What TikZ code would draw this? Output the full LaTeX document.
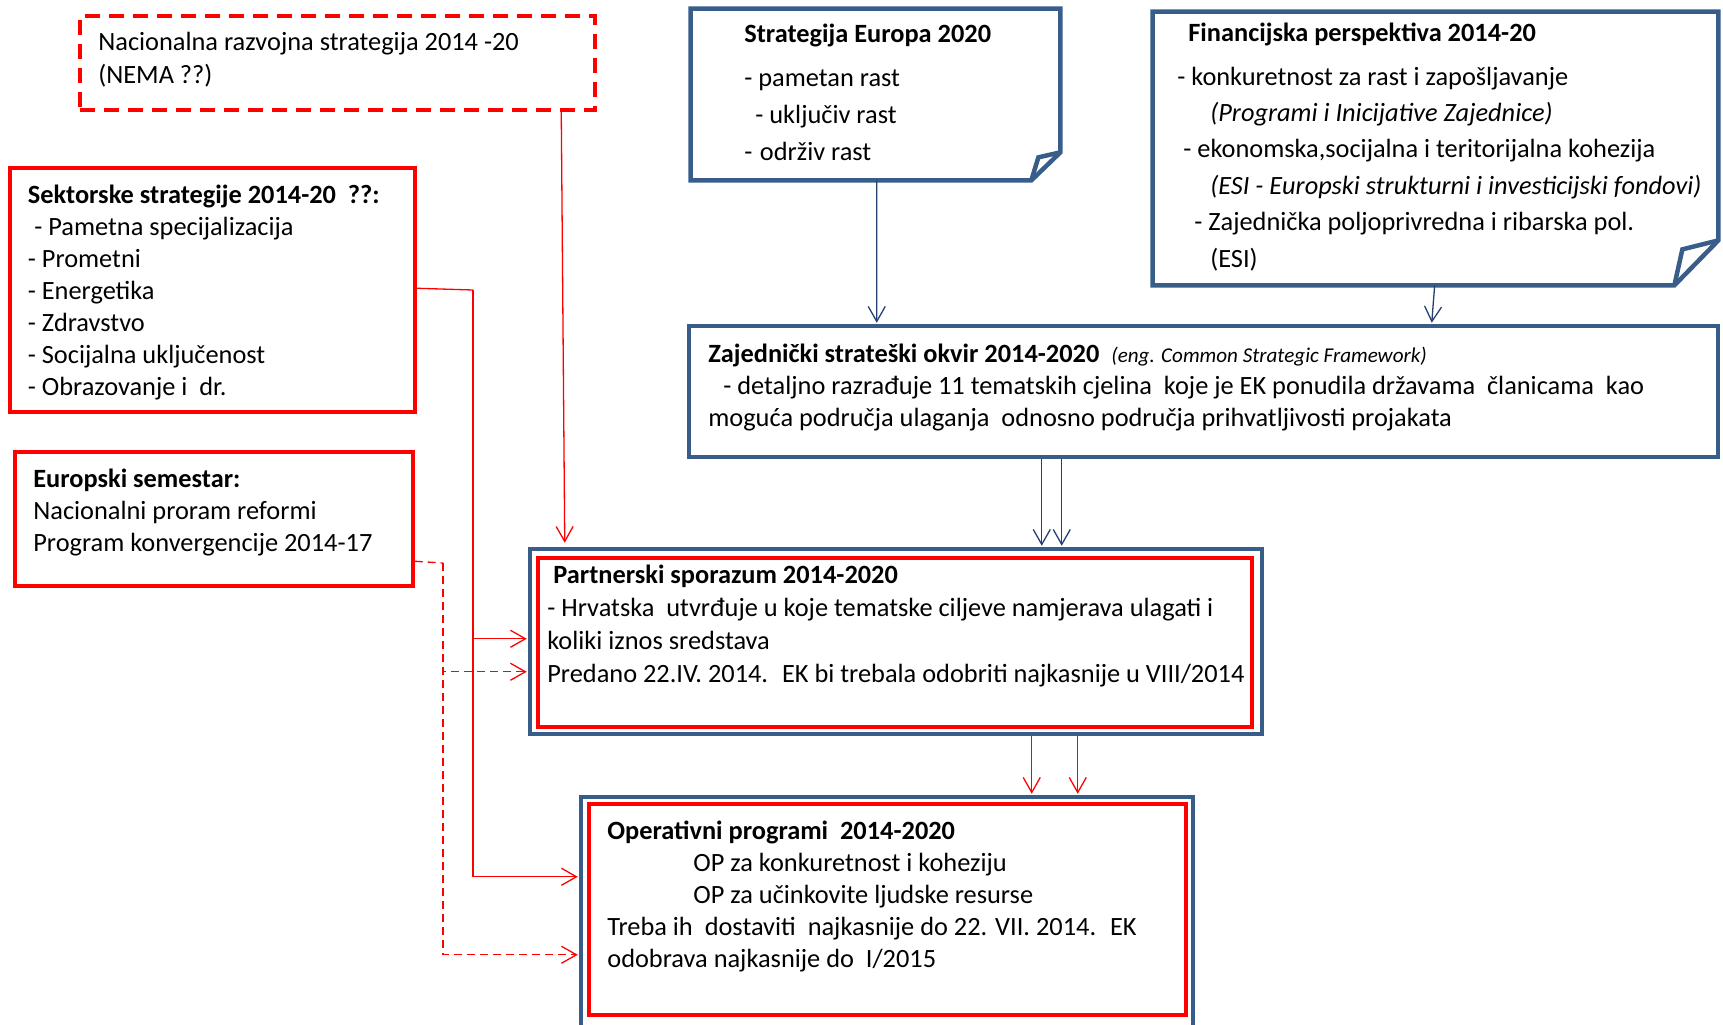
\documentclass[tikz,border=0pt]{standalone}
\usepackage{fontspec}
\setmainfont{Carlito}
\usetikzlibrary{arrows.meta,calc,fit}
\definecolor{boxblue}{RGB}{56,93,138}
\definecolor{lineblue}{RGB}{36,64,115}
\definecolor{boxred}{RGB}{255,0,0}
\tikzset{
	bluebox/.style={draw=boxblue, line width=0.9mm, inner sep=0pt},
	redbox/.style={draw=boxred, line width=0.7mm, inner sep=0pt},
	reddashbox/.style={redbox, dash pattern=on 3mm off 1.8mm},
	boxtext/.style={anchor=base west, align=left, inner sep=0pt, font=\fontsize{15}{18.2}\selectfont},
	redline/.style={draw=boxred, line width=0.26mm},
	reddash/.style={redline, dash pattern=on 1.6mm off 1mm},
	blueline/.style={draw=lineblue, line width=0.26mm},
	tip/.style={-{Straight Barb[length=3mm,width=3.4mm]}},
}

\begin{document}
\begin{tikzpicture}[x=0.2mm, y=-0.2mm]
	\useasboundingbox (0,0) rectangle (1723,1024);
	% left boxes
	\node[reddashbox, fit={(80,16) (595,110)}] (nacional) {};
	\node[redbox, fit={(10,168) (415,412)}] (sektor) {};
	\node[redbox, fit={(15,452) (413,586)}] (europ) {};
	% folded notes
	\node[inner sep=0pt, fit={(691,9) (1060,180)}] (strat) {};
	\draw[bluebox] (strat.north west) -- (strat.north east) -- ($(strat.south east)+(0,-28)$)
		-- ($(strat.south east)+(-29,0)$) -- (strat.south west) -- cycle;
	\draw[bluebox] ($(strat.south east)+(-29,0)$) -- ($(strat.south east)+(-22,-23)$) -- ($(strat.south east)+(0,-28)$);
	\node[inner sep=0pt, fit={(1153,12) (1718,285)}] (finan) {};
	\draw[bluebox] (finan.north west) -- (finan.north east) -- ($(finan.south east)+(0,-45)$)
		-- ($(finan.south east)+(-44,0)$) -- (finan.south west) -- cycle;
	\draw[bluebox] ($(finan.south east)+(-44,0)$) -- ($(finan.south east)+(-36,-36)$) -- ($(finan.south east)+(0,-45)$);
	% framework and programmes
	\node[bluebox, fit={(689,326) (1718,457)}] (zajed) {};
	\node[bluebox, fit={(530,549) (1262,734)}] (partner) {};
	\node[redbox, fit={(538,558) (1252,727)}] (partnerin) {};
	\node[bluebox, fit={(581,797) (1193,1030)}] (oper) {};
	\node[redbox, fit={(589,804) (1186,1015)}] (operin) {};

	% texts (placed at the baseline of their last line)
	\node[boxtext] (nacionaltext) at (98,83) {Nacionalna razvojna strategija 2014 -20\\[0.5pt](NEMA ??)};
	\node[boxtext] (sektortext) at (27.5,395) {\textbf{Sektorske strategije 2014-20 ~??:}\\
		\hspace{1.3mm}- Pametna specijalizacija\\- Prometni\\- Energetika\\- Zdravstvo\\
		- Socijalna uključenost\\- Obrazovanje i~ dr.};
	\node[boxtext] (europtext) at (33,551) {\textbf{Europski semestar:}\\Nacionalni proram reformi\\Program konvergencije 2014-17};
	\node[boxtext] (strattext) at (744,160) {\textbf{Strategija Europa 2020}\\[6.7pt]
		- pametan rast\\[2.8pt]\hspace{2.2mm}- uključiv rast\\[2.8pt]-\hspace{1.5mm}održiv rast};
	\node[boxtext] (finantext) at (1177,267) {\hspace{2.2mm}\textbf{Financijska perspektiva 2014-20}\\[6.7pt]
		- konkuretnost za rast i zapošljavanje\\[2.5pt]
		\hspace{6.6mm}\textit{(Programi i Inicijative Zajednice)}\\[2.5pt]
		\hspace{1.2mm}- ekonomska,socijalna i teritorijalna kohezija\\[2.5pt]
		\hspace{6.6mm}\textit{(ESI - Europski strukturni i investicijski fondovi)}\\[2.5pt]
		\hspace{3.4mm}- Zajednička poljoprivredna i ribarska pol.\\[2.5pt]
		\hspace{6.6mm}(ESI)};
	\node[boxtext] (zajedtext) at (708,426) {\textbf{Zajednički strateški okvir 2014-2020}\hspace{2.4mm}{\fontsize{12}{14}\selectfont\itshape (eng. Common Strategic Framework)}\\
		\hspace{3mm}- detaljno razrađuje 11 tematskih cjelina~ koje je EK ponudila državama~ članicama~ kao\\
		moguća područja ulaganja~ odnosno područja prihvatljivosti projakata};
	\node[boxtext] (partnertext) at (547,682) {\hspace{1.2mm}\textbf{Partnerski sporazum 2014-2020}\\[0.5pt]
		- Hrvatska~ utvrđuje u koje tematske ciljeve namjerava ulagati i\\[0.5pt]
		koliki iznos sredstava\\[0.5pt]
		Predano 22.IV. 2014.~ EK bi trebala odobriti najkasnije u VIII/2014};
	\node[boxtext] (opertext) at (607,967) {\textbf{Operativni programi~ 2014-2020}\\
		\hspace{17.2mm}OP za konkuretnost i koheziju\\
		\hspace{17.2mm}OP za učinkovite ljudske resurse\\
		Treba ih~ dostaviti~ najkasnije do 22. VII. 2014.~ EK\\
		odobrava najkasnije do~ I/2015};

	% connectors
	\draw[redline, tip] ($(nacional.south west)+(483,0)$) -- ($(partner.north west)+(37,-4)$);
	\draw[blueline, tip] ($(strat.south west)+(186,0)$) -- ($(zajed.north west)+(190,-1)$);
	\draw[blueline, tip] ($(finan.south west)+(282,0)$) -- ($(zajed.north west)+(745,-1)$);
	\draw[blueline, tip] ($(zajed.south west)+(355,0)$) -- ($(partner.north west)+(514,-1)$);
	\draw[blueline, tip] ($(zajed.south west)+(375,0)$) -- ($(partner.north west)+(534,-1)$);
	\draw[redline, tip] ($(partner.south west)+(504,0)$) -- ($(oper.north west)+(453,-1)$);
	\draw[redline, tip] ($(partner.south west)+(550,0)$) -- ($(oper.north west)+(499,-1)$);
	\coordinate (sekbus) at (473,290);
	\draw[redline] ($(sektor.north east)+(0,122)$) -- (sekbus);
	\draw[redline, tip] (sekbus) |- ($(partner.north west)+(-1,92)$);
	\draw[redline, tip] (sekbus) |- ($(oper.north west)+(-1,82)$);
	\coordinate (eurbus) at (443,563);
	\draw[reddash] ($(europ.north east)+(0,111)$) -- (eurbus);
	\draw[reddash, tip] (eurbus) |- ($(partner.north west)+(-1,125)$);
	\draw[reddash, tip] (eurbus) |- ($(oper.north west)+(-1,160)$);
\end{tikzpicture}
\end{document}
